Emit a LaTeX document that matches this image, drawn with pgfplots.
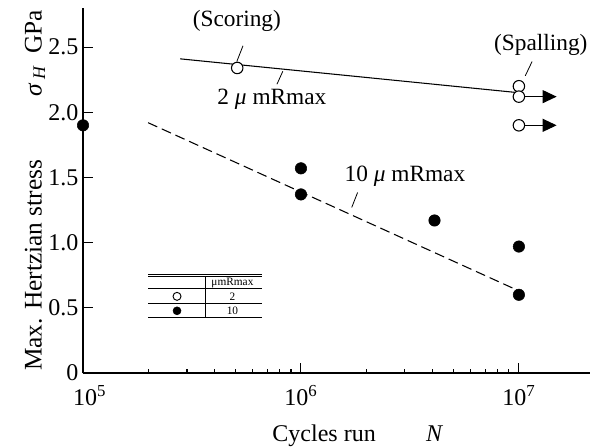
\documentclass[border=0pt]{standalone}
\usepackage{fontspec}
\setmainfont{Liberation Serif}
\usepackage{pgfplots}
\pgfplotsset{compat=1.18}
\usetikzlibrary{arrows.meta}
\begin{document}
\begin{tikzpicture}
\path[use as bounding box] (-62.25pt,-55.5pt) rectangle (380.25pt,279.75pt);
\begin{axis}[
  at={(0,0)}, anchor=south west,
  scale only axis, width=380.25pt, height=273.75pt,
  xmode=log, xmin=1e5, xmax=2.12e7, ymin=0, ymax=2.8,
  axis x line=bottom, axis y line=left,
  axis line style={-, line width=0.8pt},
  xtick={1e5,1e6,1e7},
  xticklabels={\hspace*{10pt}10\textsuperscript{5},10\textsuperscript{6},10\textsuperscript{7}},
  xticklabel style={yshift=-6pt},
  minor xtick={},
  ytick={0,0.5,1,1.5,2,2.5},
  yticklabels={0,0.5,1.0,1.5,2.0,2.5},
  tick align=inside, major tick length=7.5pt,
  tick style={black, line width=0.8pt},
  tick label style={font=\fontsize{18}{20}\selectfont},
  xlabel={Cycles run\hspace{2.1em}\textit{N}},
  xlabel style={font=\fontsize{18}{20}\selectfont, at={(axis description cs:0.5,0)}, yshift=-47pt, xshift=16pt, anchor=center},
  ylabel={Max. Hertzian stress\hspace{2.5em}{\itshape σ\,\textsubscript{H}}\hspace{0.5em}GPa},
  ylabel style={font=\fontsize{19}{21}\selectfont, at={(axis description cs:0,0.5)}, anchor=center, yshift=36pt},
  clip=false,
]
% fitted lines
\addplot[black, line width=0.8pt] coordinates {(2.79e5,2.41) (1e7,2.15)};
\addplot[black, line width=0.8pt, dash pattern=on 7.5pt off 3.75pt] coordinates {(1.99e5,1.92) (1e7,0.63)};
% arrows (run-outs)
\addplot[black, line width=0.8pt, -{Triangle[length=10.5pt,width=9.75pt]}] coordinates {(1.06e7,2.12) (1.49e7,2.12)};
\addplot[black, line width=0.8pt, -{Triangle[length=10.5pt,width=9.75pt]}] coordinates {(1.06e7,1.90) (1.49e7,1.90)};
% 10 um data
\addplot[only marks, mark=*, mark size=4.3pt, black] coordinates {
  (1e5,1.90) (1e6,1.57) (1e6,1.37) (4.1e6,1.17) (1e7,0.97) (1e7,0.60)};
% 2 um data
\addplot[only marks, mark=*, mark size=4.3pt, mark options={draw=black, fill=white, line width=0.8pt}] coordinates {
  (5.1e5,2.34) (1e7,2.20) (1e7,2.12) (1e7,1.90)};
% legend table markers
\addplot[only marks, mark=*, mark size=3pt, mark options={draw=black, fill=white, line width=0.7pt}] coordinates {(2.7e5,0.588)};
\addplot[only marks, mark=*, mark size=3pt, black] coordinates {(2.7e5,0.477)};
% annotations
\begin{scope}[font=\fontsize{17.5}{20}\selectfont]
\node at (axis cs:5.08e5,2.70) {(Scoring)};
\node at (axis cs:7.36e5,2.10) {2 \textit{μ} mRmax};
\node at (axis cs:3.0e6,1.51) {10 \textit{μ} mRmax};
\node at (axis cs:1.26e7,2.52) {(Spalling)};
\end{scope}
\draw[line width=0.6pt] (axis cs:5.42e5,2.51) -- (axis cs:5.08e5,2.39);
\draw[line width=0.6pt] (axis cs:8.26e5,2.315) -- (axis cs:7.76e5,2.215);
\draw[line width=0.6pt] (axis cs:1.82e6,1.385) -- (axis cs:1.71e6,1.27);
\draw[line width=0.6pt] (axis cs:1.15e7,2.39) -- (axis cs:1.07e7,2.28);
% legend table
\draw[line width=0.6pt] (axis cs:1.99e5,0.754) -- (axis cs:6.6e5,0.754);
\draw[line width=0.6pt] (axis cs:1.99e5,0.742) -- (axis cs:6.6e5,0.742);
\draw[line width=0.6pt] (axis cs:1.99e5,0.646) -- (axis cs:6.6e5,0.646);
\draw[line width=0.6pt] (axis cs:1.99e5,0.531) -- (axis cs:6.6e5,0.531);
\draw[line width=0.6pt] (axis cs:1.99e5,0.423) -- (axis cs:6.6e5,0.423);
\draw[line width=0.6pt] (axis cs:3.63e5,0.742) -- (axis cs:3.63e5,0.423);
\node[font=\fontsize{8.5}{10}\selectfont] at (axis cs:4.85e5,0.694) {μmRmax};
\node[font=\fontsize{8.5}{10}\selectfont] at (axis cs:4.85e5,0.588) {2};
\node[font=\fontsize{8.5}{10}\selectfont] at (axis cs:4.85e5,0.477) {10};
\end{axis}
\end{tikzpicture}
\end{document}
